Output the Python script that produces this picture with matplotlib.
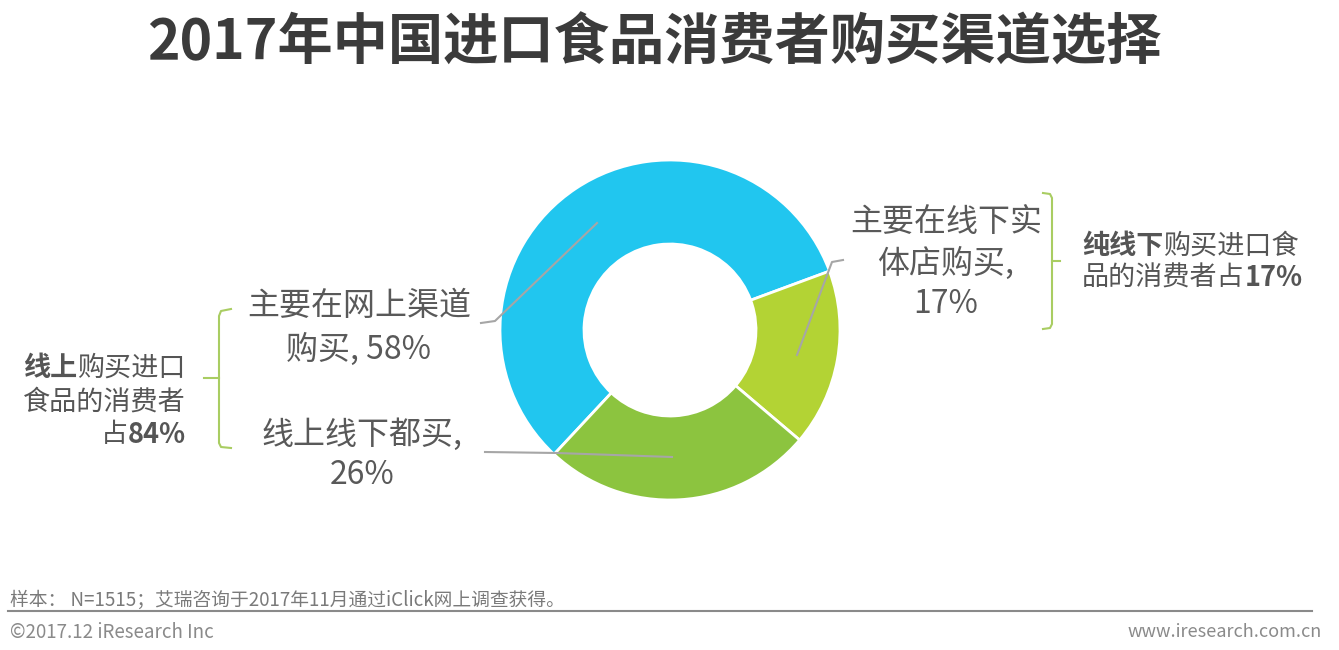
import matplotlib
matplotlib.use("Agg")
import matplotlib.pyplot as plt

plt.rcParams['font.family'] = ['Noto Sans CJK SC', 'DejaVu Sans']

# ---------------- data ----------------
title = "2017年中国进口食品消费者购买渠道选择"
categories = ["主要在网上渠道购买", "主要在线下实体店购买", "线上线下都买"]
shares = [58, 17, 26]
colors = ["#21c6ef", "#b3d334", "#8cc43f"]
online_total = 84
offline_only = 17
source = "样本： N=1515；艾瑞咨询于2017年11月通过iClick网上调查获得。"
copyright_text = "©2017.12 iResearch Inc"
website = "www.iresearch.com.cn"

# ---------------- figure ----------------
W, H = 1339, 650
fig = plt.figure(figsize=(W / 100, H / 100), dpi=100)
ax = fig.add_axes([0, 0, 1, 1])


def Y(y):
    return H - y


cx, cy, R = 670, 330, 170
ax.pie(shares, colors=colors, startangle=227, counterclock=False,
       radius=R, center=(cx, Y(cy)),
       wedgeprops=dict(width=84, edgecolor='white', linewidth=2))
ax.set_xlim(0, W)
ax.set_ylim(0, H)
ax.set_aspect('equal')
ax.axis('off')

renderer = fig.canvas.get_renderer()
label_color = "#595959"


def rich(x, y, parts, size, ha='left', color="#555555"):
    texts = []
    for s, b in parts:
        t = ax.text(0, 0, s, fontsize=size, fontweight='bold' if b else 'normal',
                    color=color, va='center', ha='left')
        texts.append(t)
    widths = [t.get_window_extent(renderer).width for t in texts]
    total = sum(widths)
    cur = x if ha == 'left' else (x - total if ha == 'right' else x - total / 2)
    for t, w in zip(texts, widths):
        t.set_position((cur, Y(y)))
        cur += w


# title
ax.text(654, Y(44), title, fontsize=39.8, fontweight='heavy', color="#3b3b3b",
        ha='center', va='center')

# slice labels
lab_size = 23
online_lines = ["主要在网上渠道", f"购买, {shares[0]}%"]
for i, s in enumerate(online_lines):
    ax.text(359, Y(306 + 43 * i), s, fontsize=lab_size, color=label_color,
            ha='center', va='center')
both_lines = ["线上线下都买,", f"{shares[2]}%"]
for i, s in enumerate(both_lines):
    ax.text(362, Y(435 + 40 * i), s, fontsize=lab_size, color=label_color,
            ha='center', va='center')
offline_lines = ["主要在线下实", "体店购买,", f"{shares[1]}%"]
for i, s in enumerate(offline_lines):
    ax.text(946, Y(222 + 41 * i), s, fontsize=lab_size, color=label_color,
            ha='center', va='center')

# leader lines
lc = "#a6a6a6"
ax.plot([597, 495, 481], [Y(223), Y(321), Y(323)], color=lc, lw=1.5)
ax.plot([672, 557, 485], [Y(457), Y(453), Y(452)], color=lc, lw=1.5)
ax.plot([797, 832, 843], [Y(355), Y(262), Y(260)], color=lc, lw=1.5)

# brackets
bc = "#a9cd62"
ax.plot([231, 221, 219, 219, 221, 231], [Y(309), Y(311), Y(316), Y(443), Y(447), Y(448)],
        color=bc, lw=1.5)
ax.plot([219, 204], [Y(378), Y(378)], color=bc, lw=1.5)
ax.plot([1043, 1050, 1052, 1052, 1050, 1043], [Y(193), Y(194), Y(198), Y(324), Y(328), Y(329)],
        color=bc, lw=1.5)
ax.plot([1052, 1060], [Y(261), Y(261)], color=bc, lw=1.5)

# side notes
ns = 19.5
rich(186, 368, [("线上", True), ("购买进口", False)], ns, ha='right')
rich(186, 402, [("食品的消费者", False)], ns, ha='right')
rich(186, 435, [("占", False), (f"{online_total}%", True)], ns, ha='right')
rich(1082, 246, [("纯线下", True), ("购买进口食", False)], ns, ha='left')
rich(1082, 278, [("品的消费者占", False), (f"{offline_only}%", True)], ns, ha='left')

# footer
ax.text(10, Y(600), source, fontsize=13.5, color="#7a7a7a", ha='left', va='center')
ax.plot([8, 1312], [Y(611), Y(611)], color="#8a8a8a", lw=1.5)
ax.text(10, Y(632), copyright_text, fontsize=13.5, color="#8a8a8a", ha='left', va='center')
ax.text(1322, Y(632), website, fontsize=13, color="#8a8a8a", ha='right', va='center')

fig.savefig("out.png", dpi=100)
